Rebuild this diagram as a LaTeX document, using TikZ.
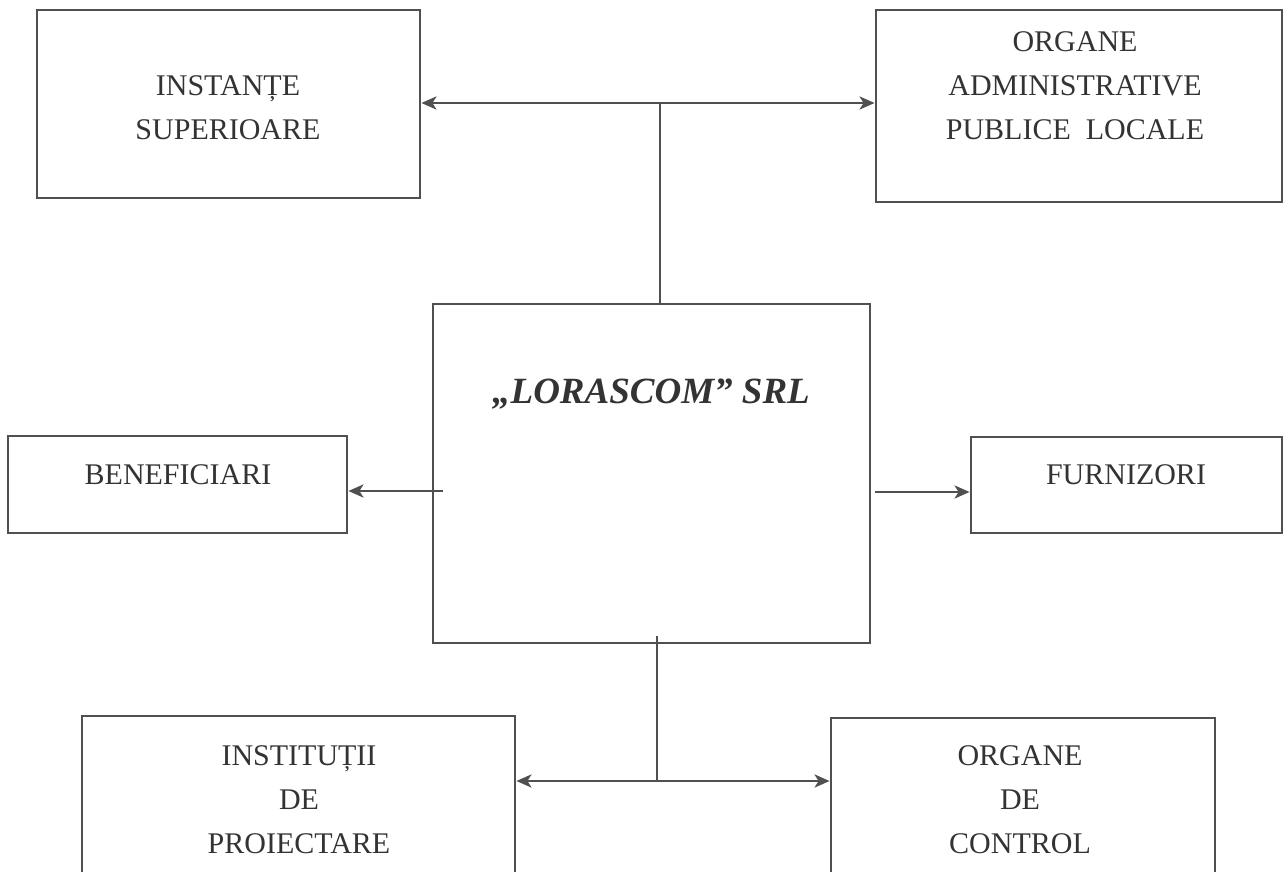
\documentclass[tikz,border=0pt]{standalone}
\usepackage{fontspec}
\setmainfont{Liberation Serif}
\usetikzlibrary{arrows.meta,calc}
\definecolor{ln}{HTML}{505050}
\definecolor{tx}{HTML}{333333}
\begin{document}
\begin{tikzpicture}[x=1pt,y=-1pt,
  box/.style={draw=ln,line width=2.8pt,inner sep=0pt},
  lbl/.style={text=tx,font=\fontsize{30}{44}\selectfont,align=center,inner sep=0pt},
  conn/.style={draw=ln,line width=2.8pt},
  tip/.style={-{Stealth[length=15pt,width=13pt,inset=4pt]}}]
\useasboundingbox (0,0) rectangle (1286,871);
\clip (0,0) rectangle (1286,871);
% boxes
\node[box,minimum width=383pt,minimum height=188pt] (inst) at (228.5,104) {};
\node[box,minimum width=406pt,minimum height=192pt] (org) at (1079,106) {};
\node[box,minimum width=437pt,minimum height=339pt] (lor) at (651.5,473.5) {};
\node[box,minimum width=339pt,minimum height=97pt] (ben) at (177.5,484.5) {};
\node[box,minimum width=311pt,minimum height=96pt] (fur) at (1126.5,485) {};
\node[box,minimum width=433pt,minimum height=200pt] (pro) at (298.5,816) {};
\node[box,minimum width=384pt,minimum height=200pt] (ctl) at (1023,818) {};
% labels
\node[lbl] (tinst) at (228,108) {INSTANȚE\\SUPERIOARE};
\node[lbl] (torg) at (1075,86) {ORGANE\\ADMINISTRATIVE\\PUBLICE\ \ LOCALE};
\node[lbl,font=\fontsize{37}{44}\selectfont\bfseries\itshape] (tlor) at (651,394) {„LORASCOM” SRL};
\node[lbl] (tben) at (178,475) {BENEFICIARI};
\node[lbl] (tfur) at (1126,475) {FURNIZORI};
\node[lbl] (tpro) at (299,800) {INSTITUȚII\\DE\\PROIECTARE};
\node[lbl] (tctl) at (1020,800) {ORGANE\\DE\\CONTROL};
% coordinates
\coordinate (jt) at (660,103);
\coordinate (jb) at (657,781);
\coordinate (lorL) at (443,491);
\coordinate (lorR) at (875,492);
\coordinate (lorB) at (657,636);
% connectors
\draw[conn] (lor.north -| jt) -- (jt);
\draw[conn,tip] (jt) -- (inst.east |- jt);
\draw[conn,tip] (jt) -- (org.west |- jt);
\draw[conn,tip] (lorL) -- (ben.east |- lorL);
\draw[conn,tip] (lorR) -- (fur.west |- lorR);
\draw[conn] (lorB) -- (jb);
\draw[conn,tip] (jb) -- (pro.east |- jb);
\draw[conn,tip] (jb) -- (ctl.west |- jb);
\end{tikzpicture}
\end{document}
